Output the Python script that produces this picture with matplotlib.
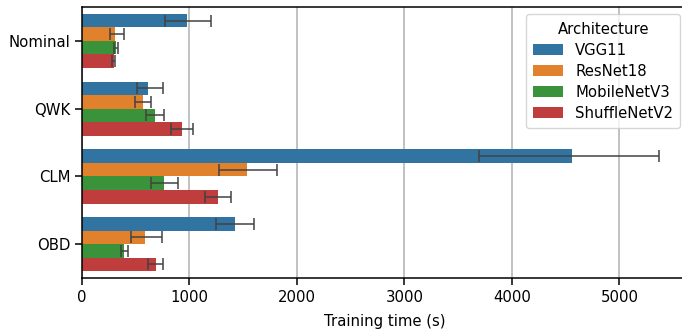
import numpy as np
import matplotlib.pyplot as plt

losses = ["Nominal", "QWK", "CLM", "OBD"]
archs = ["VGG11", "ResNet18", "MobileNetV3", "ShuffleNetV2"]
colors = ["#3274a1", "#e1812c", "#3a923a", "#c03d3e"]

# mean training time per loss / architecture, plus CI bounds
vgg11 = [974, 620, 4555, 1423]
vgg11_lo = [778, 514, 3696, 1249]
vgg11_hi = [1206, 751, 5370, 1603]

resnet18 = [313, 567, 1532, 586]
resnet18_lo = [258, 496, 1276, 456]
resnet18_hi = [391, 639, 1817, 744]

mobilenet = [316, 679, 763, 391]
mobilenet_lo = [298, 593, 639, 360]
mobilenet_hi = [335, 766, 893, 428]

shufflenet = [295, 930, 1262, 686]
shufflenet_lo = [282, 825, 1147, 611]
shufflenet_hi = [310, 1033, 1386, 756]

means = [vgg11, resnet18, mobilenet, shufflenet]
lows = [vgg11_lo, resnet18_lo, mobilenet_lo, shufflenet_lo]
highs = [vgg11_hi, resnet18_hi, mobilenet_hi, shufflenet_hi]

plt.rcParams["font.family"] = "DejaVu Sans"
plt.rcParams["font.size"] = 10.7

fig = plt.figure(figsize=(6.82, 3.35), dpi=100)
# axes run slightly past the right edge of the canvas
ax = fig.add_axes([0.120, 0.170, 0.8886, 0.809])

y = np.arange(len(losses))
h = 0.2
for i, arch in enumerate(archs):
    pos = y + (i - 1.5) * h
    m = np.array(means[i])
    lo = np.array(lows[i])
    hi = np.array(highs[i])
    ax.barh(pos, m, height=h, color=colors[i], label=arch, zorder=2)
    ax.errorbar(m, pos, xerr=[m - lo, hi - m], fmt="none", ecolor=".26",
                elinewidth=1.1, capsize=4, capthick=1.1, zorder=3)

ax.set_yticks(y)
ax.set_yticklabels(losses)
ax.set_ylim(3.5, -0.5)
ax.set_xlim(0, 5637)
ax.set_xticks([0, 1000, 2000, 3000, 4000, 5000])
ax.set_xlabel("Training time (s)", labelpad=6.5)
ax.grid(axis="x", color="#b0b0b0", linewidth=1.1, zorder=0)
ax.set_axisbelow(True)
ax.tick_params(length=4.8, width=1.1)
for s in ax.spines.values():
    s.set_linewidth(1.1)

ax.legend(title="Architecture", loc="upper right", framealpha=0.8,
          handlelength=2.0, borderpad=0.5, labelspacing=0.4)

fig.savefig("out.png", dpi=100)
